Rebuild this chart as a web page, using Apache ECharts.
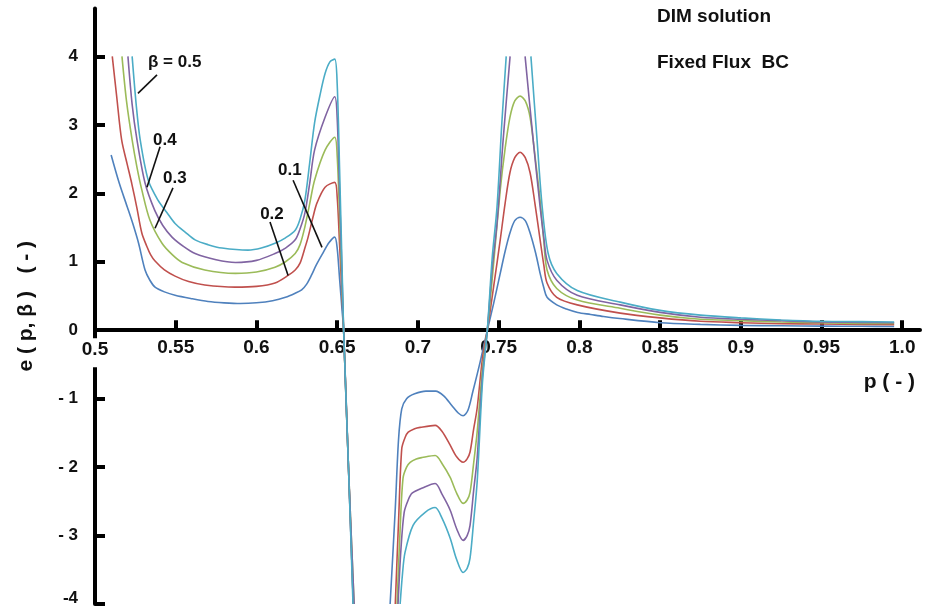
<!DOCTYPE html>
<html>
<head>
<meta charset="utf-8">
<script src="https://cdn.jsdelivr.net/npm/echarts@6/dist/echarts.min.js"></script>
<style>
  html, body { margin: 0; padding: 0; background: #fff; }
  #main { width: 935px; height: 608px; }
</style>
</head>
<body>
<div id="main"></div>
<script>
// tick values
var xTicks = [0.55, 0.6, 0.65, 0.7, 0.75, 0.8, 0.85, 0.9, 0.95, 1.0];
var xLabels = [0.5, 0.55, 0.6, 0.65, 0.7, 0.75, 0.8, 0.85, 0.9, 0.95, 1.0];
var yTicks = [-4, -3, -2, -1, 0, 1, 2, 3, 4];

var seriesNames = ['0.1', '0.2', '0.3', '0.4', '0.5'];
var seriesColors = ['#4f81bd', '#c0504d', '#9bbb59', '#8064a2', '#4bacc6'];

// [p, e], null = curve leaves the plot
var beta01 = [
  [0.510, 2.56], [0.515, 2.15], [0.520, 1.80], [0.5235, 1.55], [0.527, 1.27], [0.531, 0.88], [0.534, 0.73],
  [0.5372, 0.63], [0.543, 0.56], [0.5496, 0.51], [0.560, 0.46], [0.570, 0.42], [0.580, 0.40], [0.590, 0.39],
  [0.600, 0.40], [0.610, 0.43], [0.618, 0.48], [0.624, 0.54], [0.628, 0.59], [0.631, 0.67], [0.634, 0.80],
  [0.637, 0.95], [0.641, 1.12], [0.645, 1.28], [0.6485, 1.36], [0.650, 1.20], [0.6515, 0.75], [0.653, 0.30],
  [0.654, 0], [0.657, -2.0], [0.660, -4], [0.671, null], [0.6828, -4], [0.686, -2.6], [0.688, -1.6],
  [0.690, -1.15], [0.693, -1.0], [0.698, -0.93], [0.705, -0.89], [0.711, -0.89], [0.716, -0.96], [0.721, -1.10],
  [0.725, -1.21], [0.728, -1.25], [0.731, -1.17], [0.734, -0.90], [0.7385, -0.47], [0.743, 0], [0.747, 0.40],
  [0.751, 0.83], [0.754, 1.15], [0.757, 1.42], [0.760, 1.60], [0.7633, 1.65], [0.7665, 1.60], [0.7695, 1.42],
  [0.773, 1.12], [0.7757, 0.83], [0.778, 0.62], [0.780, 0.48], [0.786, 0.37], [0.792, 0.31], [0.799, 0.26],
  [0.807, 0.23], [0.815, 0.20], [0.825, 0.17], [0.850, 0.11], [0.875, 0.085], [0.900, 0.07], [0.925, 0.065],
  [0.950, 0.06], [0.975, 0.057], [0.995, 0.055]
];
var beta02 = [
  [0.5107, 4.0], [0.5135, 3.4], [0.5165, 2.78], [0.520, 2.42], [0.5227, 2.15], [0.526, 1.78], [0.529, 1.42],
  [0.532, 1.23], [0.5345, 1.10], [0.5372, 1.01], [0.543, 0.88], [0.5496, 0.79], [0.558, 0.71], [0.568, 0.66],
  [0.5867, 0.63], [0.600, 0.64], [0.6115, 0.69], [0.6196, 0.80], [0.624, 0.88], [0.627, 0.98], [0.630, 1.20],
  [0.632, 1.36], [0.635, 1.65], [0.6375, 1.86], [0.6425, 2.09], [0.6485, 2.16], [0.650, 1.95], [0.6515, 1.25],
  [0.653, 0.50], [0.654, 0], [0.657, -2.0], [0.660, -4], [0.672, null], [0.686, -4], [0.688, -2.8],
  [0.690, -1.73], [0.692, -1.57], [0.694, -1.49], [0.698, -1.44], [0.7014, -1.42], [0.7107, -1.39],
  [0.715, -1.48], [0.720, -1.68], [0.724, -1.85], [0.728, -1.93], [0.7305, -1.88], [0.7323, -1.78],
  [0.7345, -1.45], [0.7367, -1.14], [0.740, -0.41], [0.743, 0], [0.747, 0.65], [0.751, 1.32], [0.754, 1.85],
  [0.757, 2.30], [0.760, 2.52], [0.7633, 2.60], [0.7665, 2.52], [0.7695, 2.30], [0.7725, 1.85], [0.7757, 1.32],
  [0.778, 0.95], [0.780, 0.69], [0.786, 0.48], [0.7987, 0.37], [0.8253, 0.25], [0.850, 0.18], [0.875, 0.13],
  [0.900, 0.11], [0.925, 0.095], [0.950, 0.09], [0.975, 0.085], [0.995, 0.08]
];
var beta03 = [
  [0.5167, 4.0], [0.5195, 3.35], [0.523, 2.78], [0.526, 2.38], [0.529, 2.05], [0.534, 1.61], [0.5415, 1.27],
  [0.548, 1.10], [0.554, 0.99], [0.568, 0.88], [0.587, 0.83], [0.600, 0.85], [0.6115, 0.92], [0.618, 1.00],
  [0.624, 1.12], [0.627, 1.25], [0.630, 1.51], [0.633, 1.85], [0.636, 2.19], [0.6425, 2.63], [0.6485, 2.82],
  [0.650, 2.55], [0.6515, 1.65], [0.653, 0.65], [0.654, 0], [0.657, -2.0], [0.6605, -4], [0.673, null],
  [0.6871, -4], [0.689, -2.9], [0.6908, -2.16], [0.693, -2.0], [0.6952, -1.93], [0.699, -1.88], [0.7026, -1.86],
  [0.7107, -1.83], [0.715, -1.95], [0.720, -2.15], [0.724, -2.38], [0.728, -2.53], [0.7305, -2.48],
  [0.7323, -2.37], [0.7345, -1.95], [0.7367, -1.49], [0.740, -0.56], [0.743, 0], [0.747, 1.0], [0.751, 2.05],
  [0.754, 2.65], [0.757, 3.11], [0.760, 3.35], [0.7633, 3.42], [0.7665, 3.35], [0.7695, 3.11], [0.7725, 2.55],
  [0.7757, 1.90], [0.778, 1.30], [0.780, 0.88], [0.786, 0.61], [0.7987, 0.44], [0.8253, 0.32], [0.850, 0.22],
  [0.875, 0.16], [0.900, 0.14], [0.925, 0.12], [0.950, 0.11], [0.975, 0.10], [0.995, 0.10]
];
var beta04 = [
  [0.5204, 4.0], [0.523, 3.3], [0.526, 2.78], [0.531, 2.15], [0.537, 1.75], [0.542, 1.53], [0.5477, 1.36],
  [0.555, 1.22], [0.562, 1.12], [0.575, 1.03], [0.587, 0.99], [0.600, 1.02], [0.6115, 1.12], [0.618, 1.20],
  [0.624, 1.32], [0.627, 1.48], [0.630, 1.71], [0.633, 2.15], [0.636, 2.63], [0.6425, 3.11], [0.6485, 3.41],
  [0.650, 3.10], [0.6515, 2.0], [0.653, 0.8], [0.654, 0], [0.657, -2.0], [0.6605, -4], [0.674, null],
  [0.6877, -4], [0.6895, -3.2], [0.6915, -2.66], [0.694, -2.48], [0.6964, -2.38], [0.7032, -2.30],
  [0.7107, -2.24], [0.715, -2.40], [0.720, -2.63], [0.724, -2.90], [0.728, -3.07], [0.7305, -3.0],
  [0.7323, -2.85], [0.7345, -2.35], [0.7367, -1.87], [0.740, -0.66], [0.743, 0], [0.746, 0.9], [0.749, 1.56],
  [0.7528, 2.78], [0.7571, 4.0], [0.7617, null], [0.7664, 4.0], [0.7714, 2.78], [0.7757, 1.80], [0.778, 1.35],
  [0.780, 1.02], [0.786, 0.73], [0.7987, 0.51], [0.8253, 0.37], [0.850, 0.26], [0.875, 0.19], [0.900, 0.16],
  [0.925, 0.14], [0.950, 0.12], [0.975, 0.115], [0.995, 0.11]
];
var beta05 = [
  [0.523, 4.0], [0.5255, 3.3], [0.528, 2.78], [0.533, 2.19], [0.539, 1.90], [0.5445, 1.72], [0.5496, 1.56],
  [0.556, 1.43], [0.562, 1.32], [0.570, 1.25], [0.5787, 1.20], [0.5948, 1.17], [0.603, 1.20], [0.6115, 1.27],
  [0.618, 1.35], [0.624, 1.46], [0.627, 1.62], [0.630, 1.90], [0.633, 2.45], [0.636, 3.03], [0.6395, 3.45],
  [0.6425, 3.75], [0.6455, 3.92], [0.6485, 3.96], [0.650, 3.60], [0.6515, 2.35], [0.653, 0.95], [0.654, 0],
  [0.657, -2.0], [0.6598, -4], [0.675, null], [0.689, -4], [0.6905, -3.55], [0.692, -3.25], [0.697, -2.85],
  [0.7045, -2.66], [0.7107, -2.59], [0.715, -2.75], [0.720, -3.04], [0.724, -3.35], [0.728, -3.54],
  [0.7305, -3.48], [0.7323, -3.33], [0.7345, -2.80], [0.7367, -2.22], [0.740, -0.76], [0.743, 0], [0.746, 1.05],
  [0.749, 1.80], [0.752, 3.03], [0.7547, 4.0], [0.7625, null], [0.770, 4.0], [0.7738, 2.78], [0.777, 1.80],
  [0.7807, 1.12], [0.786, 0.83], [0.7987, 0.58], [0.8253, 0.41], [0.850, 0.29], [0.875, 0.22], [0.900, 0.18],
  [0.925, 0.15], [0.950, 0.13], [0.975, 0.125], [0.995, 0.12]
];
var seriesData = [beta01, beta02, beta03, beta04, beta05];

// curve labels: text position and leader line, in data units
var curveLabels = [
  { text: 'β = 0.5', at: [0.5328, 3.92], from: [0.5384, 3.73], to: [0.5266, 3.46] },
  { text: '0.4', at: [0.5359, 2.78], from: [0.5403, 2.68], to: [0.5322, 2.09] },
  { text: '0.3', at: [0.5421, 2.22], from: [0.5483, 2.08], to: [0.5372, 1.49] },
  { text: '0.2', at: [0.6023, 1.69], from: [0.6084, 1.58], to: [0.6196, 0.80] },
  { text: '0.1', at: [0.6134, 2.34], from: [0.6227, 2.19], to: [0.6406, 1.21] }
];

var FONT = '"Liberation Sans", Arial, sans-serif';

var chartDom = document.getElementById('main');
var myChart = echarts.init(chartDom);
var option;

option = {
  animation: false,
  grid: { left: 95, right: 15, top: 8.5, bottom: 4, containLabel: false, outerBoundsMode: 'none' },
  xAxis: {
    type: 'value',
    min: 0.5,
    max: 1.011,
    z: 3,
    axisLine: { onZero: false, lineStyle: { color: '#000', width: 4 } },
    axisTick: { inside: true, length: 10, customValues: xTicks, lineStyle: { color: '#000', width: 4 } },
    axisLabel: {
      customValues: xLabels,
      margin: 8,
      fontSize: 19,
      fontWeight: 'bold',
      fontFamily: FONT,
      color: '#111',
      formatter: function (v) {
        if (v >= 1) return '1.0';
        var s = String(+v.toFixed(2));
        // first label masks the y axis line, as in the original figure
        return v === 0.5 ? '{m|' + s + '}' : s;
      },
      rich: {
        m: {
          fontSize: 19, fontWeight: 'bold', fontFamily: FONT, color: '#111',
          backgroundColor: '#fff', padding: [2, 3, 8, 3]
        }
      }
    },
    splitLine: { show: false }
  },
  yAxis: {
    type: 'value',
    min: -4,
    max: 4.7,
    z: 1,
    name: 'e ( p, β )   ( - )',
    nameLocation: 'middle',
    nameRotate: 90,
    nameGap: 58,
    nameTextStyle: { fontSize: 21, fontWeight: 'bold', fontFamily: FONT, color: '#111' },
    axisLine: { lineStyle: { color: '#000', width: 4 } },
    axisTick: { inside: true, length: 10, customValues: yTicks, lineStyle: { color: '#000', width: 4 } },
    axisLabel: {
      customValues: yTicks,
      margin: 17,
      fontSize: 17,
      fontWeight: 'bold',
      fontFamily: FONT,
      color: '#111',
      formatter: function (v) {
        if (v === -4) return '{b|-4}';
        return v < 0 ? '- ' + (-v) : String(v);
      },
      rich: {
        b: { fontSize: 17, fontWeight: 'bold', fontFamily: FONT, color: '#111', padding: [0, 0, 12, 0] }
      }
    },
    splitLine: { show: false }
  },
  series: seriesData.map(function (d, i) {
    return {
      name: seriesNames[i],
      type: 'line',
      data: d,
      showSymbol: false,
      smooth: 0.3,
      connectNulls: false,
      clip: true,
      lineStyle: { color: seriesColors[i], width: 1.6 },
      itemStyle: { color: seriesColors[i] }
    };
  })
};
option && myChart.setOption(option);

// move the p axis (line, ticks and labels) up to e = 0
var zeroY = myChart.convertToPixel({ yAxisIndex: 0 }, 0);
var bottomY = myChart.convertToPixel({ yAxisIndex: 0 }, -4);
myChart.setOption({ xAxis: { offset: -(bottomY - zeroY) } });

// annotations placed through the chart's own scales
var graphics = [
  { type: 'text', left: 657, top: 7, style: { text: 'DIM solution', font: 'bold 19px ' + FONT, fill: '#111' } },
  { type: 'text', left: 657, top: 53, style: { text: 'Fixed Flux  BC', font: 'bold 19px ' + FONT, fill: '#111' } },
  { type: 'text', right: 20, top: 372, style: { text: 'p ( - )', font: 'bold 21px ' + FONT, fill: '#111' } }
];
curveLabels.forEach(function (c) {
  var a = myChart.convertToPixel({ gridIndex: 0 }, c.at);
  var f = myChart.convertToPixel({ gridIndex: 0 }, c.from);
  var t = myChart.convertToPixel({ gridIndex: 0 }, c.to);
  graphics.push({
    type: 'text', x: a[0], y: a[1], z: 10,
    style: { text: c.text, font: 'bold 17px ' + FONT, fill: '#111', textVerticalAlign: 'middle' }
  });
  graphics.push({
    type: 'line', z: 10,
    shape: { x1: f[0], y1: f[1], x2: t[0], y2: t[1] },
    style: { stroke: '#111', lineWidth: 1.6 }
  });
});
myChart.setOption({ graphic: graphics });

window.addEventListener('resize', function () {
  myChart.resize();
});
</script>
</body>
</html>
